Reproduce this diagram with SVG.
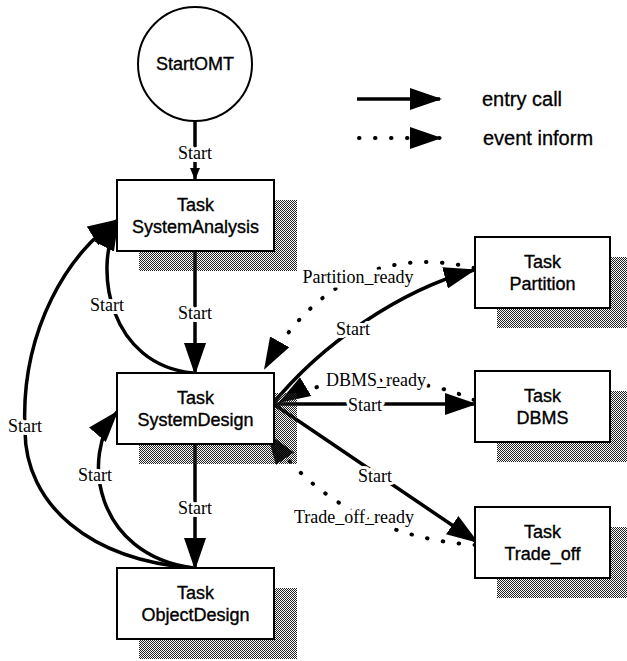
<svg xmlns="http://www.w3.org/2000/svg" width="627" height="661" viewBox="0 0 627 661">
<style>
.box{fill:#fff;stroke:#000;stroke-width:2}
.shadow{fill:url(#stipple)}
.nt{font-family:"Liberation Sans",Arial,sans-serif;font-size:18px;text-anchor:middle;fill:#000;stroke:#000;stroke-width:0.35}
.lt{font-family:"Liberation Sans",Arial,sans-serif;font-size:20px;fill:#000;stroke:#000;stroke-width:0.3}
.solid{fill:none;stroke:#000;stroke-width:3.5}
.dot{fill:none;stroke:#000;stroke-width:4;stroke-dasharray:0.5 15.5;stroke-linecap:round}
.lab{font-family:"Liberation Serif","Times New Roman",serif;font-size:18px;text-anchor:middle;fill:#000;stroke:#fff;stroke-width:6;paint-order:stroke;stroke-linejoin:round}
.dlab{stroke-width:9}
</style>
<defs>
<pattern id="stipple" width="2" height="2" patternUnits="userSpaceOnUse">
<rect x="0" y="0" width="1" height="1" fill="#222"/>
<rect x="1" y="1" width="1" height="1" fill="#222"/>
</pattern>
<marker id="ah" markerUnits="userSpaceOnUse" markerWidth="32" markerHeight="22" viewBox="0 0 32 22" refX="30" refY="11" orient="auto">
<path d="M0,0 L32,11 L0,22 z" fill="#000"/>
</marker>
<marker id="sah" markerUnits="userSpaceOnUse" markerWidth="12" markerHeight="10" viewBox="0 0 12 10" refX="12" refY="5" orient="auto">
<path d="M0,0 L12,5 L0,10 z" fill="#000"/>
</marker>
</defs>
<rect width="627" height="661" fill="#fff"/>

<g id="legend">
<line class="solid" x1="357" y1="99" x2="440" y2="99" marker-end="url(#ah)"/>
<text class="lt" x="482" y="106">entry call</text>
<line class="dot" x1="359" y1="138" x2="440" y2="138" marker-end="url(#ah)"/>
<text class="lt" x="483" y="145">event inform</text>
</g>

<g id="connectors">
<line class="solid" x1="195" y1="121" x2="195" y2="180" stroke-width="3" marker-end="url(#sah)"/>
<text class="lab" x="195" y="159">Start</text>
<line class="solid" x1="195" y1="252" x2="195" y2="373" marker-end="url(#ah)"/>
<text class="lab" x="195" y="319">Start</text>
<path class="solid" d="M193,373 C110,365 92,270 118,220" marker-end="url(#ah)"/>
<text class="lab" x="107" y="311">Start</text>
<path class="solid" d="M193,568 C90,560 25,505 25,430 C20,330 70,250 118,220" marker-end="url(#ah)"/>
<text class="lab" x="25" y="432">Start</text>
<path class="solid" d="M193,568 C95,555 80,455 117,412" marker-end="url(#ah)"/>
<text class="lab" x="95" y="481">Start</text>
<line class="solid" x1="195" y1="443" x2="195" y2="568" marker-end="url(#ah)"/>
<text class="lab" x="195" y="514">Start</text>
<path class="solid" d="M272,405 C320,345 400,290 474,270" marker-end="url(#ah)"/>
<text class="lab" x="353" y="335">Start</text>
<line class="solid" x1="253" y1="404" x2="475" y2="404" marker-end="url(#ah)"/>
<text class="lab" x="365" y="411">Start</text>
<line class="solid" x1="272" y1="403" x2="477" y2="542" marker-end="url(#ah)"/>
<text class="lab" x="375" y="482">Start</text>
<path class="dot" d="M474,268 C400,250 320,270 265,368" marker-end="url(#ah)"/>
<text class="lab dlab" x="358" y="283">Partition_ready</text>
<path class="dot" d="M474,400 C420,375 330,372 280,402" marker-end="url(#ah)"/>
<text class="lab dlab" x="376" y="386">DBMS_ready</text>
<path class="dot" d="M475,545 C400,540 320,510 268,434" marker-end="url(#ah)"/>
<text class="lab dlab" x="354" y="523">Trade_off_ready</text>
</g>

<g id="StartOMT">
<circle cx="195" cy="64" r="57" fill="#fff" stroke="#000" stroke-width="2"/>
<text class="nt" x="195" y="70">StartOMT</text>
</g>

<g id="SystemAnalysis">
<rect class="shadow" x="139" y="200" width="158" height="71"/>
<rect class="box" x="117" y="180" width="157" height="71"/>
<text class="nt" x="195.5" y="211">Task</text>
<text class="nt" x="195.5" y="233">SystemAnalysis</text>
</g>

<g id="SystemDesign">
<rect class="shadow" x="139" y="393" width="158" height="71"/>
<rect class="box" x="117" y="373" width="157" height="71"/>
<text class="nt" x="195.5" y="404">Task</text>
<text class="nt" x="195.5" y="426">SystemDesign</text>
</g>

<g id="ObjectDesign">
<rect class="shadow" x="139" y="588" width="158" height="71"/>
<rect class="box" x="117" y="568" width="157" height="71"/>
<text class="nt" x="195.5" y="599">Task</text>
<text class="nt" x="195.5" y="621">ObjectDesign</text>
</g>

<g id="Partition">
<rect class="shadow" x="497" y="257" width="130" height="71"/>
<rect class="box" x="475" y="237" width="135" height="71"/>
<text class="nt" x="542.5" y="268">Task</text>
<text class="nt" x="542.5" y="290">Partition</text>
</g>

<g id="DBMS">
<rect class="shadow" x="497" y="391" width="130" height="71"/>
<rect class="box" x="475" y="371" width="135" height="71"/>
<text class="nt" x="542.5" y="402">Task</text>
<text class="nt" x="542.5" y="424">DBMS</text>
</g>

<g id="Trade_off">
<rect class="shadow" x="497" y="527" width="130" height="71"/>
<rect class="box" x="475" y="507" width="135" height="71"/>
<text class="nt" x="542.5" y="538">Task</text>
<text class="nt" x="542.5" y="560">Trade_off</text>
</g>
</svg>
